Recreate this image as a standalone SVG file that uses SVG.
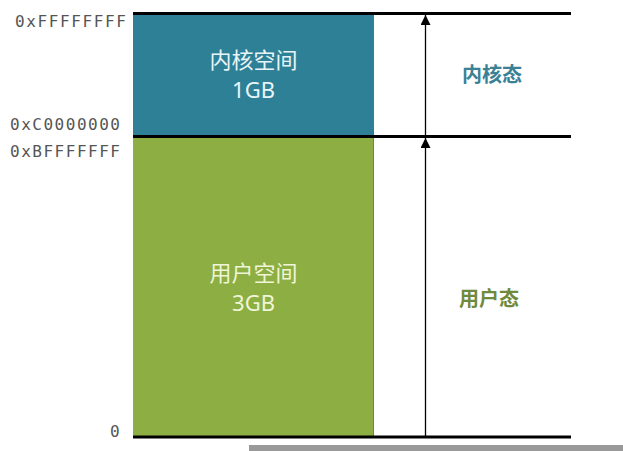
<svg xmlns="http://www.w3.org/2000/svg" width="623" height="451" viewBox="0 0 623 451">
<style>
.addr{font-family:"DejaVu Sans Mono","Liberation Mono",monospace;font-size:16px;fill:#555}
.box{font-family:"Noto Sans","Noto Sans CJK SC",sans-serif;font-size:22px;text-anchor:middle}
.lbl{font-family:"Noto Sans CJK SC","Noto Sans",sans-serif;font-size:20px;font-weight:bold;text-anchor:middle}
.rule{stroke:#000;stroke-width:3}
.arr{stroke:#000;stroke-width:1.3;fill:none}
</style>
<defs>
<marker id="ah" viewBox="0 0 10 10" refX="10" refY="5" markerWidth="10" markerHeight="10" markerUnits="userSpaceOnUse" orient="auto">
<path d="M0,0 L10,5 L0,10 z" fill="#000"/>
</marker>
</defs>
<rect x="0" y="0" width="623" height="451" fill="#fff"/>
<g id="kernel-space">
<rect x="133" y="13" width="241" height="123" fill="#2e8097"/>
<text class="box" x="253.5" y="68" fill="#e8f5f8">内核空间</text>
<text class="box" x="253.5" y="98" fill="#e8f5f8">1GB</text>
</g>
<g id="user-space">
<rect x="133" y="136" width="241" height="301" fill="#8cae43"/>
<line x1="373.5" y1="137" x2="373.5" y2="437" stroke="#6b8a2e" stroke-width="1"/>
<text class="box" x="253.5" y="281" fill="#eff5d6">用户空间</text>
<text class="box" x="253.5" y="311" fill="#eff5d6">3GB</text>
</g>
<g id="addresses">
<text class="addr" x="15" y="27" textLength="111" lengthAdjust="spacing">0xFFFFFFFF</text>
<text class="addr" x="10" y="130" textLength="110" lengthAdjust="spacing">0xC0000000</text>
<text class="addr" x="10" y="157" textLength="110" lengthAdjust="spacing">0xBFFFFFFF</text>
<text class="addr" x="110" y="437">0</text>
</g>
<g id="connectors">
<line class="rule" x1="133" y1="13.5" x2="571" y2="13.5"/>
<line class="rule" x1="133" y1="136.5" x2="571" y2="136.5"/>
<line class="rule" x1="133" y1="437" x2="571" y2="437"/>
<line class="arr" x1="425.5" y1="135" x2="425.5" y2="15" marker-end="url(#ah)"/>
<line class="arr" x1="425.5" y1="436" x2="425.5" y2="138" marker-end="url(#ah)"/>
</g>
<g id="kernel-mode"><text class="lbl" x="492" y="82" fill="#3b8196">内核态</text></g>
<g id="user-mode"><text class="lbl" x="489" y="306" fill="#6f8a3c">用户态</text></g>
<rect x="249" y="445" width="374" height="6" fill="#999"/>
</svg>
